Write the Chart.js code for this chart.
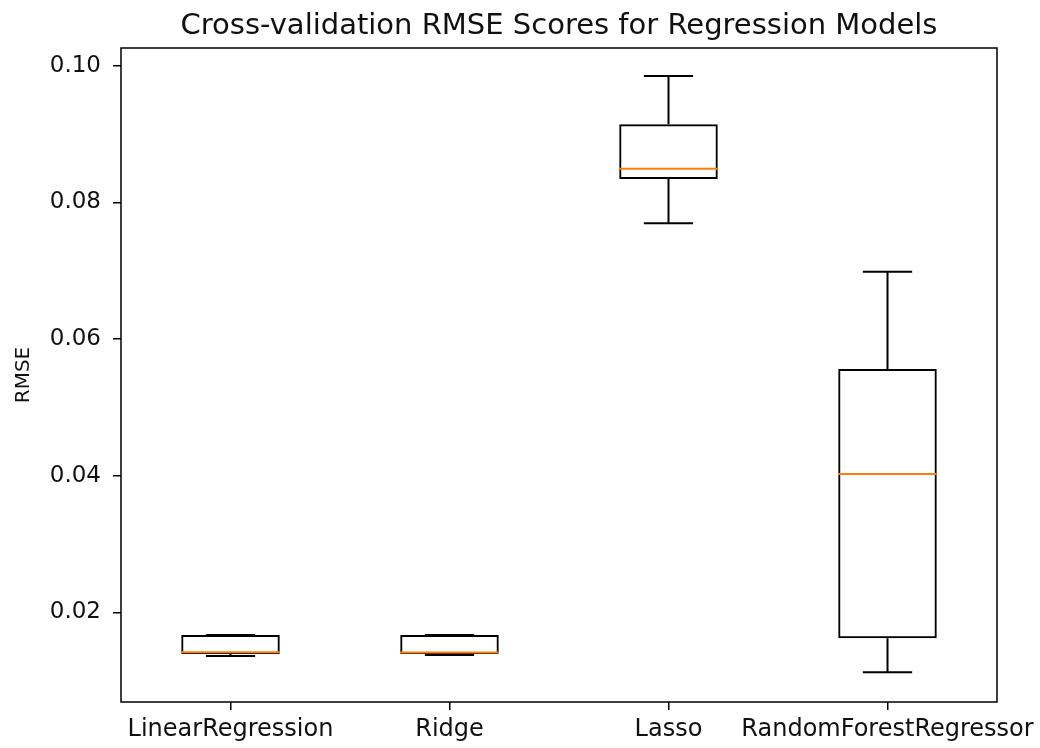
<!DOCTYPE html>
<html>
<head>
<meta charset="utf-8">
<script src="https://cdn.jsdelivr.net/npm/chart.js@4.4.1/dist/chart.umd.min.js"></script>
<style>
  html, body { margin: 0; padding: 0; background: #fff; }
  #wrap { width: 1040px; height: 748px; }
</style>
</head>
<body>
<div id="wrap"><canvas id="boxChart" width="1040" height="748"></canvas></div>
<script>
// Models and the five-number summary
const categories = ['LinearRegression', 'Ridge', 'Lasso', 'RandomForestRegressor'];
const whiskerLow = [0.01360, 0.01375, 0.07693, 0.01121];
const q1 = [0.01389, 0.01389, 0.08342, 0.01619];
const median = [0.01415, 0.01412, 0.08492, 0.04024];
const q3 = [0.01667, 0.01667, 0.09142, 0.05561];
const whiskerHigh = [0.01667, 0.01667, 0.09849, 0.06985];
const yTicks = [0.02, 0.04, 0.06, 0.08, 0.10];

const titleText = 'Cross-validation RMSE Scores for Regression Models';
const fontFamily = '"DejaVu Sans", sans-serif';

// Draws whiskers, caps, medians, the frame and the title
const boxExtras = {
    id: 'boxExtras',
    afterDatasetsDraw(chart) {
        const ctx = chart.ctx;
        const y = chart.scales.y;
        const meta = chart.getDatasetMeta(0);
        ctx.save();
        ctx.lineWidth = 2;
        meta.data.forEach(function(bar, i) {
            const x = bar.x;
            const half = bar.width / 2;
            const capHalf = half / 2;
            ctx.strokeStyle = '#000';
            ctx.beginPath();
            // upper whisker
            ctx.moveTo(x, y.getPixelForValue(q3[i]));
            ctx.lineTo(x, y.getPixelForValue(whiskerHigh[i]));
            ctx.moveTo(x - capHalf, y.getPixelForValue(whiskerHigh[i]));
            ctx.lineTo(x + capHalf, y.getPixelForValue(whiskerHigh[i]));
            // lower whisker
            ctx.moveTo(x, y.getPixelForValue(q1[i]));
            ctx.lineTo(x, y.getPixelForValue(whiskerLow[i]));
            ctx.moveTo(x - capHalf, y.getPixelForValue(whiskerLow[i]));
            ctx.lineTo(x + capHalf, y.getPixelForValue(whiskerLow[i]));
            ctx.stroke();
            // median
            ctx.strokeStyle = '#ff7f0e';
            ctx.beginPath();
            ctx.moveTo(x - half, y.getPixelForValue(median[i]));
            ctx.lineTo(x + half, y.getPixelForValue(median[i]));
            ctx.stroke();
        });
        ctx.restore();
    },
    afterDraw(chart) {
        const ctx = chart.ctx;
        const area = chart.chartArea;
        ctx.save();
        ctx.strokeStyle = '#000';
        ctx.lineWidth = 1.5;
        ctx.strokeRect(area.left, area.top, area.right - area.left, area.bottom - area.top);
        ctx.fillStyle = '#111';
        ctx.font = '29px ' + fontFamily;
        ctx.textAlign = 'center';
        ctx.textBaseline = 'alphabetic';
        ctx.fillText(titleText, (area.left + area.right) / 2, 34);
        ctx.restore();
    }
};

new Chart(document.getElementById('boxChart'), {
    type: 'bar',
    data: {
        labels: categories,
        datasets: [{
            data: categories.map(function(c, i) { return [q1[i], q3[i]]; }),
            backgroundColor: 'rgba(0,0,0,0)',
            borderColor: '#000',
            borderWidth: 2,
            borderSkipped: false,
            categoryPercentage: 1,
            barPercentage: 0.45
        }]
    },
    options: {
        responsive: false,
        animation: false,
        layout: {
            padding: { left: 0, right: 43, top: 48, bottom: 0 }
        },
        scales: {
            x: {
                offset: true,
                afterFit: function(scale) {
                    scale.height = 46;
                    // let the long last label overhang like matplotlib does
                    scale.paddingLeft = 0;
                    scale.paddingRight = 0;
                },
                border: { display: false },
                grid: {
                    offset: false,
                    drawOnChartArea: false,
                    tickLength: 8,
                    color: '#000',
                    lineWidth: 1.5
                },
                ticks: {
                    color: '#111',
                    padding: 5,
                    autoSkip: false,
                    maxRotation: 0,
                    font: { family: fontFamily, size: 24 }
                }
            },
            y: {
                min: 0.00687,
                max: 0.10259,
                afterFit: function(scale) {
                    scale.width = 121;
                    scale.paddingTop = 0;
                    scale.paddingBottom = 0;
                },
                afterBuildTicks: function(scale) {
                    scale.ticks = yTicks.map(function(v) { return { value: v }; });
                },
                border: { display: false },
                grid: {
                    drawOnChartArea: false,
                    tickLength: 8,
                    color: '#000',
                    lineWidth: 1.5
                },
                ticks: {
                    color: '#111',
                    padding: 12,
                    font: { family: fontFamily, size: 23 },
                    callback: function(value) { return value.toFixed(2); }
                },
                title: {
                    display: true,
                    text: 'RMSE',
                    color: '#111',
                    padding: { top: 12, bottom: 0 },
                    font: { family: fontFamily, size: 20 }
                }
            }
        },
        plugins: {
            legend: { display: false },
            tooltip: { enabled: false },
            title: { display: false }
        }
    },
    plugins: [boxExtras]
});
</script>
</body>
</html>
